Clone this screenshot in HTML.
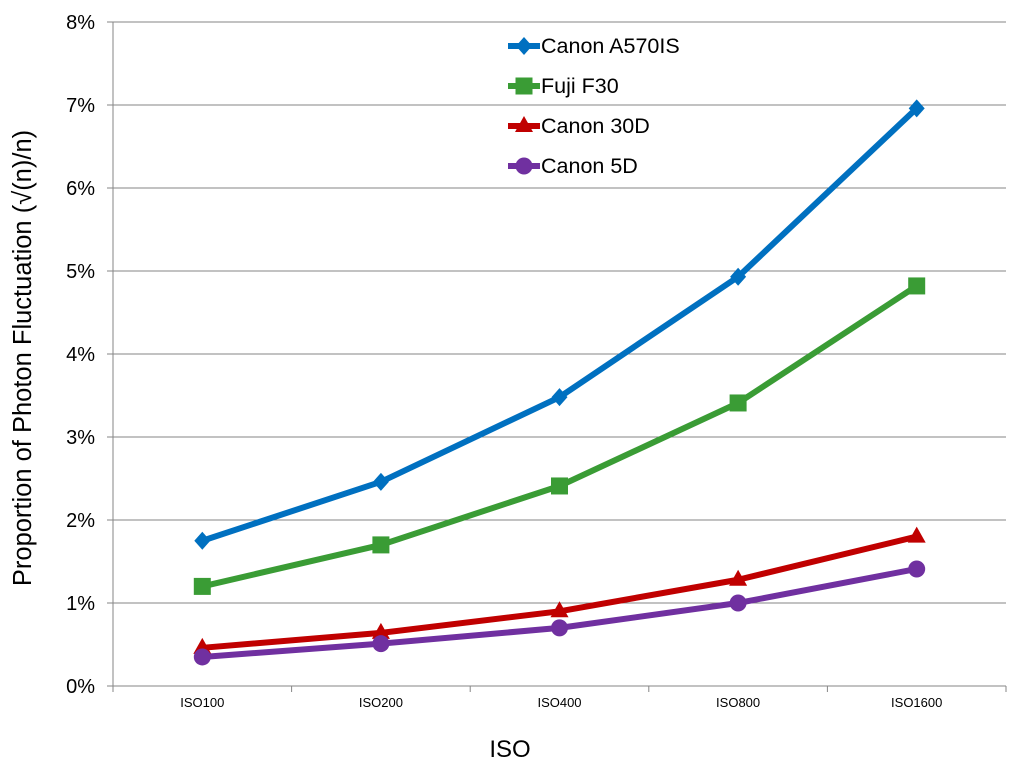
<!DOCTYPE html>
<html><head><meta charset="utf-8"><style>
body{margin:0;background:#fff;}
svg{display:block;font-family:"Liberation Sans",sans-serif;}
</style></head><body>
<svg id="chart" width="1024" height="768">
<g id="grid"></g>
<g id="axes"></g>
<g id="series"></g>
<g id="legend"></g>
<text x="510" y="757" font-size="24" text-anchor="middle">ISO</text>
<text transform="translate(31,358) rotate(-90)" font-size="25.5" text-anchor="middle">Proportion of Photon Fluctuation (√(n)/n)</text>
</svg>
<script>
const categories=["ISO100","ISO200","ISO400","ISO800","ISO1600"];
const canonA570=[1.75,2.46,3.48,4.93,6.96];
const fujiF30=[1.20,1.70,2.41,3.41,4.82];
const canon30D=[0.46,0.64,0.90,1.28,1.80];
const canon5D=[0.35,0.51,0.70,1.00,1.41];
const yTicks=[0,1,2,3,4,5,6,7,8];
const seriesNames=["Canon A570IS","Fuji F30","Canon 30D","Canon 5D"];
const NS="http://www.w3.org/2000/svg";
const X0=113,X1=1006,Y0=686,Y1=22;
const bw=(X1-X0)/categories.length;
const xs=i=>X0+bw*(i+0.5);
const ys=v=>Y0-(v-0)/(8-0)*(Y0-Y1);
function mk(t,a,p){const e=document.createElementNS(NS,t);for(const k in a)e.setAttribute(k,a[k]);p.appendChild(e);return e;}
const grid=document.getElementById('grid'),axes=document.getElementById('axes'),ser=document.getElementById('series'),leg=document.getElementById('legend');
yTicks.forEach(t=>{
 const y=ys(t);
 if(t>0){const g=mk('line',{x1:X0,x2:X1,y1:y,y2:y,stroke:'#868686','stroke-width':1},grid);
 
 }
 mk('line',{x1:X0-6,x2:X0,y1:y,y2:y,stroke:'#868686'},axes);
 const l=mk('text',{x:95,y:y+7,'font-size':20,'text-anchor':'end'},axes);l.textContent=t+'%';
 
 
});
mk('line',{x1:X0,x2:X0,y1:Y1,y2:Y0,stroke:'#868686'},axes);
mk('line',{x1:X0,x2:X1,y1:Y0,y2:Y0,stroke:'#868686'},axes);
for(let i=0;i<=categories.length;i++){const x=X0+bw*i;mk('line',{x1:x,x2:x,y1:Y0,y2:Y0+6,stroke:'#868686'},axes);}
categories.forEach((c,i)=>{const l=mk('text',{x:xs(i),y:707,'font-size':13,'text-anchor':'middle'},axes);l.textContent=c;
 
 });
const cfg=[[canonA570,'#0070c0','diamond'],[fujiF30,'#3a9c35','square'],[canon30D,'#c00000','triangle'],[canon5D,'#7030a0','circle']];
function marker(type,x,y,col,p){
 if(type==='diamond')return mk('polygon',{points:`${x},${y-9} ${x+8},${y} ${x},${y+9} ${x-8},${y}`,fill:col},p);
 if(type==='square')return mk('rect',{x:x-8.5,y:y-8.5,width:17,height:17,fill:col},p);
 if(type==='triangle')return mk('polygon',{points:`${x},${y-10} ${x+9},${y+6} ${x-9},${y+6}`,fill:col},p);
 return mk('circle',{cx:x,cy:y,r:8.5,fill:col},p);
}
cfg.forEach(([vals,col,type],si)=>{
 const g=mk('g',{},ser);
 
 
 const pl=mk('polyline',{points:vals.map((v,i)=>xs(i)+','+ys(v)).join(' '),fill:'none',stroke:col,'stroke-width':6,'stroke-linejoin':'round'},g);
 
 
 vals.forEach((v,i)=>{const m=marker(type,xs(i),ys(v),col,g);
  
  });
 const ly=46+si*40;
 const lg=mk('g',{},leg);
 
 
 mk('line',{x1:508,x2:540,y1:ly,y2:ly,stroke:col,'stroke-width':6},lg);
 marker(type,524,ly,col,lg);
 const t=mk('text',{x:541,y:ly+7,'font-size':21.5},lg);t.textContent=seriesNames[si];
});
</script>
</body></html>
